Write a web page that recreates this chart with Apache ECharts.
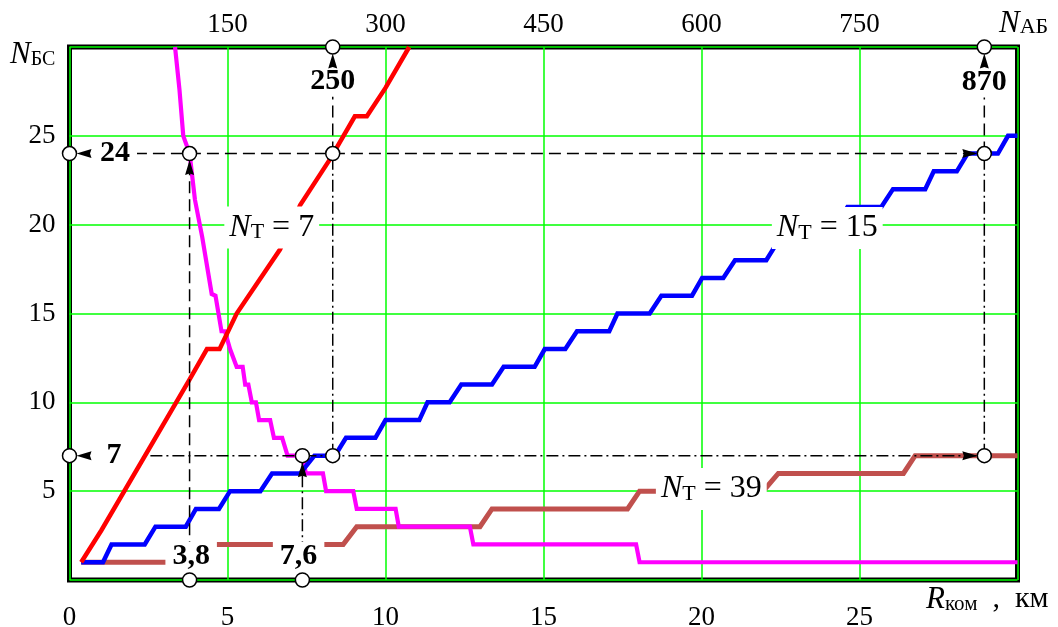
<!DOCTYPE html>
<html><head><meta charset="utf-8">
<script src="https://cdn.jsdelivr.net/npm/echarts@6/dist/echarts.min.js"></script>
<style>html,body{margin:0;padding:0;background:#fff}#c{width:1058px;height:627px}</style>
</head><body><div id="c"></div>
<script>
// ---- tick labels ----
const xTicks = [0, 5, 10, 15, 20, 25];          // R_ком, км (bottom)
const topTicks = [150, 300, 450, 600, 750];     // N_АБ (top)
const yTicks = [5, 10, 15, 20, 25];             // N_БС

// ---- curves [R_ком (km), N_БС] ----
const brownLine = [[0.37,1],[3.3,1],[3.65,2],[8.66,2],[9.09,3],[12.99,3],[13.37,4],[17.66,4],[18.04,5],[21.95,5],[22.43,6],[26.39,6],[26.76,7],[30,7]];
const magentaLine = [[3.34,30],[3.48,27.6],[3.6,25],[3.8,24],[3.97,21.4],[4.2,19.3],[4.5,16.1],[4.62,16],[4.81,14],[4.92,14],[5.08,13],[5.29,12],[5.48,12],[5.56,11],[5.66,11],[5.77,10],[5.9,10],[6.0,9],[6.35,9],[6.47,8],[6.73,8],[6.9,7],[7.37,7],[7.48,6],[8.02,6],[8.12,5],[8.98,5],[9.09,4],[10.32,4],[10.42,3],[12.67,3],[12.78,2],[17.93,2],[18.04,1],[30,1]];
const blueLine = [[0.37,1],[1.06,1],[1.33,2],[2.38,2],[2.72,3],[3.68,3],[4.0,4],[4.73,4],[5.08,5],[6.04,5],[6.41,6],[7.3,6],[7.75,7],[8.4,7],[8.75,8],[9.68,8],[10.0,9],[11.07,9],[11.33,10],[12.03,10],[12.4,11],[13.37,11],[13.74,12],[14.72,12],[15.04,13],[15.69,13],[16.06,14],[17.08,14],[17.34,15],[18.36,15],[18.73,16],[19.7,16],[20.02,17],[20.69,17],[21.06,18],[22.05,18],[22.4,19],[23.2,19],[23.55,20],[24.3,20],[24.62,21],[25.69,21],[26.06,22],[27.08,22],[27.35,23],[28.08,23],[28.42,24],[29.38,24],[29.7,25],[30,25]];
const redLine = [[0.37,1],[1.01,2.8],[3.77,11.2],[4.35,13],[4.75,13],[5.29,15],[6.66,18.6],[7.3,21.1],[8.25,23.7],[9.03,26.1],[9.41,26.1],[10.0,27.7],[10.75,30]];

// ---- guide lines ----
const dashedSegs = [[[2.07,24],[28.95,24]], [[3.8,1.5],[3.8,24]], [[8.33,24],[8.33,28.5]], [[28.95,24],[28.95,28.5]]];
const dashDotSegs = [[[2.56,7],[28.95,7]], [[8.33,7],[8.33,24]], [[28.95,7],[28.95,24]], [[7.37,1.5],[7.37,7]]];

// ---- marker circles / arrows ----
const circlePts = [[0,24],[3.8,24],[8.33,24],[28.95,24],[8.33,30],[28.95,30],[0,7],[7.37,7],[8.33,7],[28.95,7],[3.8,0],[7.37,0]];
const arrowUpPts = [[3.8,24],[7.37,7],[8.33,30],[28.95,30]];
const arrowRightPts = [[28.95,24],[28.95,7]];
const arrowLeftPts = [[0,24],[0,7]];

// ---- text annotations ----
const valueLabels = [['24',1.44,24],['7',1.41,7],['250',8.33,28.05],['870',28.95,28.0],['3,8',3.85,1.31],['7,6',7.25,1.31]];
const curveLabels = [['7',6.4,19.84],['15',23.98,19.81],['39',20.31,5.12]];

const FONT = 'Liberation Serif, Times New Roman, serif';

function dataLine(d, color, w, z) {
  return {type:'line', data:d, symbol:'none', showSymbol:false, z:z, silent:true,
          lineStyle:{color:color, width:w, join:'miter', opacity:1}};
}
const series = [
  dataLine(brownLine, '#c0504d', 5, 2),
  dataLine(magentaLine, '#ff00ff', 4.2, 2),
  dataLine(blueLine, '#0000ff', 4.5, 2),
  dataLine(redLine, '#ff0000', 4.5, 2)
];
dashedSegs.forEach(s => series.push({type:'line', data:s, symbol:'none', z:3, silent:true,
  lineStyle:{color:'#000', width:1.5, type:[12,6]}}));
dashDotSegs.forEach(s => series.push({type:'line', data:s, symbol:'none', z:3, silent:true,
  lineStyle:{color:'#000', width:1.5, type:[12,4,2,4]}}));

series.push({type:'scatter', data:valueLabels.map(v=>({name:v[0], value:[v[1],v[2]]})), z:5, silent:true, clip:false,
  symbolSize:1, itemStyle:{color:'rgba(255,255,255,0)', opacity:1},
  label:{show:true, position:'inside', formatter:p=>p.name, fontFamily:FONT, fontWeight:'bold', fontSize:30, lineHeight:30,
         color:'#000', opacity:1, backgroundColor:'#fff', padding:[0,7]}});
series.push({type:'scatter', data:curveLabels.map(v=>({name:v[0], value:[v[1],v[2]]})), z:5, silent:true, clip:false,
  symbolSize:1, itemStyle:{color:'rgba(255,255,255,0)', opacity:1},
  label:{show:true, position:'inside', formatter:p=>'{n|N}{t|Т}{r| = '+p.name+'}', opacity:1, backgroundColor:'#fff', padding:[5,5,5,5],
    rich:{n:{fontFamily:FONT, fontStyle:'italic', fontSize:32, lineHeight:32, color:'#000'},
          t:{fontFamily:FONT, fontSize:22, lineHeight:16, verticalAlign:'bottom', color:'#000'},
          r:{fontFamily:FONT, fontSize:32, lineHeight:32, color:'#000'}}}});

series.push({type:'scatter', data:arrowUpPts, z:6, silent:true, clip:false, symbol:'path://M5,0L10,15L5,13.5L0,15Z',
  symbolSize:[9,15], symbolOffset:[0,14], itemStyle:{color:'#000', opacity:1}});
series.push({type:'scatter', data:arrowRightPts, z:6, silent:true, clip:false, symbol:'path://M15,5L0,10L1.5,5L0,0Z',
  symbolSize:[15,9], symbolOffset:[-14.5,0], itemStyle:{color:'#000', opacity:1}});
series.push({type:'scatter', data:arrowLeftPts, z:6, silent:true, clip:false, symbol:'path://M0,5L15,0L13.5,5L15,10Z',
  symbolSize:[15,9], symbolOffset:[14.5,0], itemStyle:{color:'#000', opacity:1}});
series.push({type:'scatter', data:circlePts, z:7, silent:true, clip:false, symbol:'circle', symbolSize:14,
  itemStyle:{color:'#fff', borderColor:'#000', borderWidth:1.5, opacity:1}});

const tickLabel = (list, margin) => ({formatter: v => list.includes(v) ? String(v) : '', fontFamily:FONT, fontSize:27, color:'#000', margin:margin});
const GRID_GREEN = {show:true, lineStyle:{color:'#00ff00', width:1.5, opacity:1}};

const option = {
  animation:false,
  backgroundColor:'#fff',
  grid:{left:69.5, right:40.5, top:47, bottom:47, containLabel:false, outerBoundsMode:'none',
        show:true, borderColor:'#000', borderWidth:5, backgroundColor:'#fff'},
  xAxis:[
    {type:'value', position:'bottom', min:0, max:30, interval:5, axisLine:{show:false}, axisTick:{show:false},
     splitLine:GRID_GREEN, axisLabel:tickLabel(xTicks, 24)},
    {type:'value', position:'top', min:0, max:900, interval:150, axisLine:{show:false}, axisTick:{show:false},
     splitLine:{show:false}, splitArea:{show:false}, axisLabel:tickLabel(topTicks, 9)}
  ],
  yAxis:[
    {type:'value', min:0, max:30, interval:5, axisLine:{show:false}, axisTick:{show:false},
     splitLine:GRID_GREEN, axisLabel:tickLabel(yTicks, 14)}
  ],
  graphic:[
    {type:'text', left:10, top:39, silent:true, style:{text:'{n|N}{s|БС}', fill:'#000',
      rich:{n:{fontFamily:FONT, fontStyle:'italic', fontSize:31, lineHeight:30, fill:'#000'},
            s:{fontFamily:FONT, fontSize:20, lineHeight:24, verticalAlign:'bottom', fill:'#000'}}}},
    {type:'text', left:999, top:8, silent:true, style:{text:'{n|N}{s|АБ}', fill:'#000',
      rich:{n:{fontFamily:FONT, fontStyle:'italic', fontSize:31, lineHeight:30, fill:'#000'},
            s:{fontFamily:FONT, fontSize:22, lineHeight:15, verticalAlign:'bottom', fill:'#000'}}}},
    {type:'text', left:926, top:584, silent:true, style:{text:'{n|R}{s|ком}{u|  ,  км}', fill:'#000',
      rich:{n:{fontFamily:FONT, fontStyle:'italic', fontSize:31, lineHeight:30, fill:'#000'},
            s:{fontFamily:FONT, fontSize:21, lineHeight:19, verticalAlign:'bottom', fill:'#000'},
            u:{fontFamily:FONT, fontSize:30, lineHeight:30, fill:'#000'}}}}
  ],
  series:series
};
const chart = echarts.init(document.getElementById('c'), null, {renderer:'canvas'});
chart.setOption(option);
</script></body></html>
